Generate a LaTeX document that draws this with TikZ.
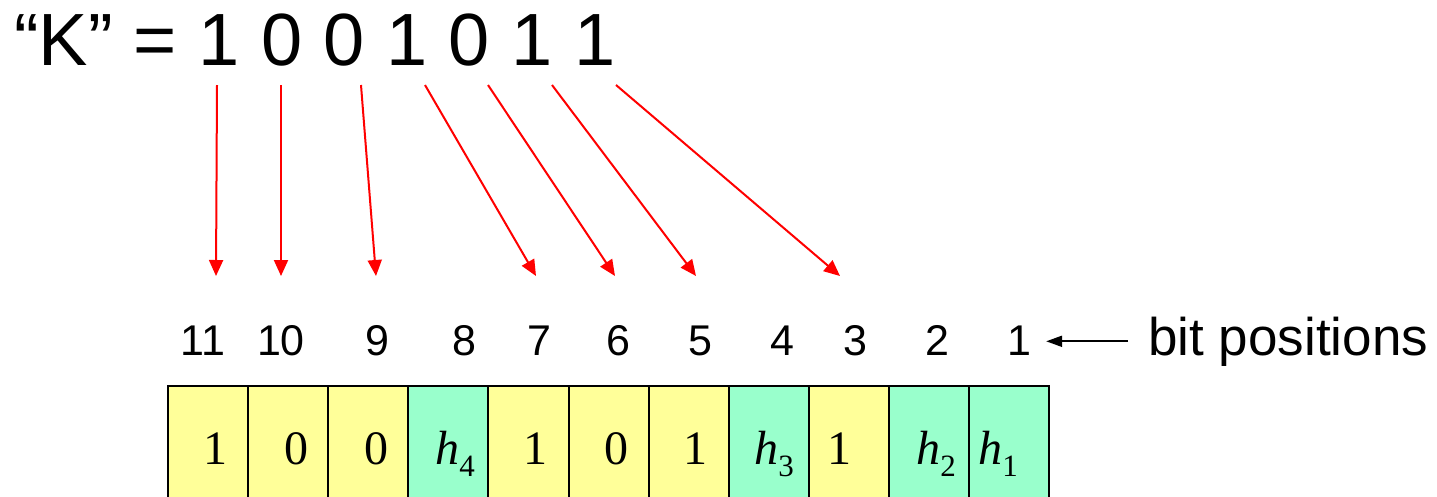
\documentclass[tikz,border=0pt]{standalone}
\usepackage{fontspec}
\setmainfont{Liberation Sans}
\newfontfamily\seriffont{Liberation Serif}
\usetikzlibrary{arrows.meta}
\definecolor{cellyellow}{HTML}{FFFF99}
\definecolor{cellgreen}{HTML}{99FFCC}
\newcommand{\hsub}[1]{\textit{h}\raisebox{-0.27em}{\fontsize{31}{31}\selectfont #1}}
\begin{document}
\begin{tikzpicture}[x=1pt,y=-1pt,
  bigtxt/.style={font=\fontsize{74}{74}\selectfont, inner sep=0pt, anchor=base},
  postxt/.style={font=\fontsize{43}{43}\selectfont, inner sep=0pt, anchor=base},
  celltxt/.style={font=\seriffont\fontsize{48}{48}\selectfont, inner sep=0pt, anchor=base},
  cell/.style={draw=black, line width=2pt, minimum width=80.1pt, minimum height=140pt, anchor=north west, inner sep=0pt},
  yel/.style={cell, fill=cellyellow},
  grn/.style={cell, fill=cellgreen},
  redarrow/.style={draw=red, line width=2pt, -{Triangle[length=16pt,width=14pt]}},
  bparrow/.style={draw=black, line width=2pt, -{Triangle[length=16pt,width=11pt]}},
]
\useasboundingbox (0,0) rectangle (1437,496);
\clip (0,0) rectangle (1437,496);

% top text
\node[bigtxt, anchor=base west] (K) at (14,65) {“K” =};
\node[bigtxt] (d1) at (219,65) {1};
\node[bigtxt] (d2) at (281.6,65) {0};
\node[bigtxt] (d3) at (344.2,65) {0};
\node[bigtxt] (d4) at (406.8,65) {1};
\node[bigtxt] (d5) at (469.4,65) {0};
\node[bigtxt] (d6) at (532,65) {1};
\node[bigtxt] (d7) at (594.6,65) {1};

% bit positions
\node[postxt] (p11) at (203,355) {11};
\node[postxt] (p10) at (281,355) {10};
\node[postxt] (p9) at (377,355) {9};
\node[postxt] (p8) at (464,355) {8};
\node[postxt] (p7) at (539,355) {7};
\node[postxt] (p6) at (618,355) {6};
\node[postxt] (p5) at (700,355) {5};
\node[postxt] (p4) at (782,355) {4};
\node[postxt] (p3) at (855,355) {3};
\node[postxt] (p2) at (937,355) {2};
\node[postxt] (p1) at (1019,355) {1};
\node[font=\fontsize{53}{53}\selectfont, inner sep=0pt, anchor=base west] (bp) at (1148,355) {bit positions};
\draw[bparrow, shorten <=20pt, shorten >=15pt] (bp.west) -- (bp.west -| p1.east);

% arrows
\coordinate (s1) at (217,85);  \coordinate (t1) at (216,276);
\coordinate (s2) at (281,85);  \coordinate (t2) at (281,276);
\coordinate (s3) at (361,85);  \coordinate (t3) at (376,276);
\coordinate (s4) at (425,85);  \coordinate (t4) at (536,276);
\coordinate (s5) at (488,85);  \coordinate (t5) at (615,276);
\coordinate (s6) at (552,85);  \coordinate (t6) at (696,276);
\coordinate (s7) at (616,85);  \coordinate (t7) at (840,276);
\foreach \i in {1,...,7} \draw[redarrow] (s\i) -- (t\i);

% cells
\node[yel] (c11) at (167,385) {};
\node[yel] (c10) at (247.1,385) {};
\node[yel] (c9) at (327.2,385) {};
\node[grn] (c8) at (407.3,385) {};
\node[yel] (c7) at (487.4,385) {};
\node[yel] (c6) at (567.5,385) {};
\node[yel] (c5) at (647.6,385) {};
\node[grn] (c4) at (727.7,385) {};
\node[yel] (c3) at (807.8,385) {};
\node[grn] (c2) at (887.9,385) {};
\node[grn] (c1) at (968,385) {};

\node[celltxt] (v11) at (215,464) {1};
\node[celltxt] (v10) at (296,464) {0};
\node[celltxt] (v9) at (376,464) {0};
\node[celltxt] (v8) at (455,464) {\hsub{4}};
\node[celltxt] (v7) at (535,464) {1};
\node[celltxt] (v6) at (616,464) {0};
\node[celltxt] (v5) at (695,464) {1};
\node[celltxt] (v4) at (774,464) {\hsub{3}};
\node[celltxt] (v3) at (839,464) {1};
\node[celltxt] (v2) at (936,464) {\hsub{2}};
\node[celltxt] (v1) at (998,464) {\hsub{1}};
\end{tikzpicture}
\end{document}
